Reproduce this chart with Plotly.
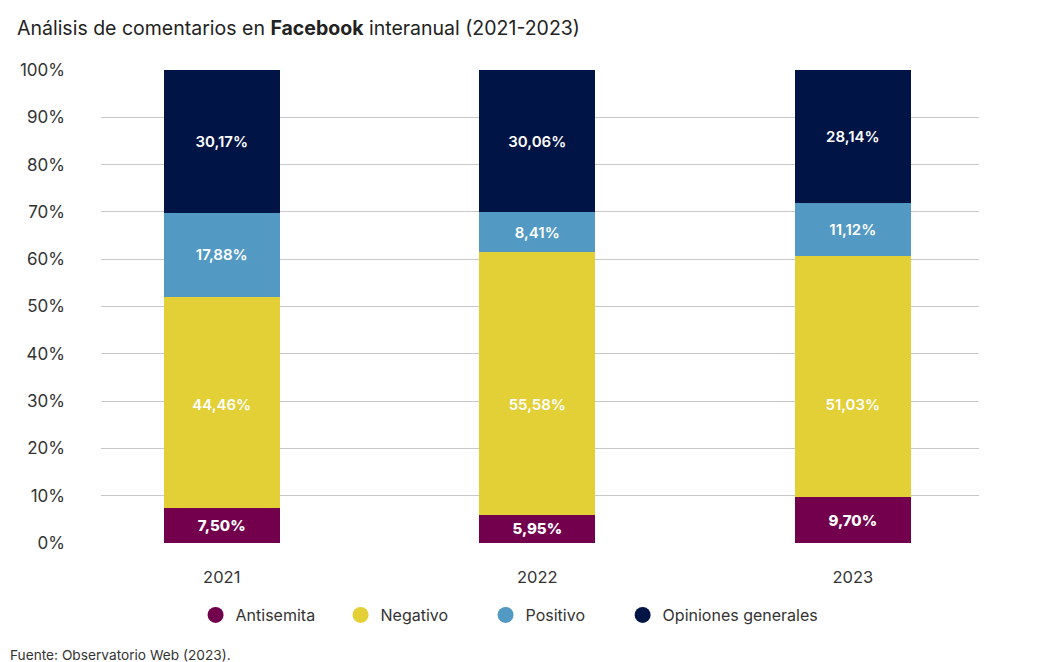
import plotly.graph_objects as go

years = ["2021", "2022", "2023"]
antisemita = [7.50, 5.95, 9.70]
negativo = [44.46, 55.58, 51.03]
positivo = [17.88, 8.41, 11.12]
opiniones = [30.17, 30.06, 28.14]

series = [
    ("Antisemita", antisemita, "#72004c", 800, "legend"),
    ("Negativo", negativo, "#e3cf36", 600, "legend"),
    ("Positivo", positivo, "#5299c4", 600, "legend"),
    ("Opiniones generales", opiniones, "#001446", 600, "legend2"),
]

FONT = "Inter"
NEG_LABEL_LEVEL = 29  # style: the Negativo labels sit at a common height
xpos = list(range(len(years)))

W, H = 1030, 654
L, T, R, B = 89, 62, 59, 119
PH = H - T - B
PW = W - L - R

fig = go.Figure()
for name, vals, color, w, lg in series:
    is_neg = name == "Negativo"
    fig.add_trace(go.Bar(
        x=xpos, y=vals, name=name, marker=dict(color=color, line=dict(width=0)),
        width=0.368, texttemplate="%{y:.2f}%",
        textposition="none" if is_neg else "inside",
        insidetextanchor="middle", constraintext="none",
        textfont=dict(family=FONT, size=15, color="white", weight=w),
        showlegend=False, hoverinfo="skip",
    ))
    fig.add_trace(go.Scatter(
        x=[None], y=[None], mode="markers", name=name, legend=lg,
        marker=dict(symbol="circle", size=16, color=color),
        showlegend=True,
    ))

fig.add_trace(go.Scatter(
    x=xpos, y=[NEG_LABEL_LEVEL] * len(xpos), mode="text",
    text=[f"{v:.2f}%".replace(".", ",") for v in negativo],
    textposition="middle center",
    textfont=dict(family=FONT, size=15, color="white", weight=600),
    showlegend=False, hoverinfo="skip",
))

legend_common = dict(
    orientation="h", yanchor="middle", y=-(607 - (T + PH)) / PH,
    xanchor="left", font=dict(family=FONT, size=16, color="#333333"),
    itemsizing="trace", traceorder="normal", bgcolor="rgba(0,0,0,0)",
)

fig.update_layout(
    barmode="stack",
    separators=",.",
    width=W, height=H,
    margin=dict(l=L, r=R, t=T, b=B),
    paper_bgcolor="white", plot_bgcolor="white",
    font=dict(family=FONT, color="#333333"),
    title=dict(
        text="Análisis de comentarios en <b>Facebook</b> interanual (2021-2023)",
        x=9 / W, xanchor="left", y=1 - 20 / H, yanchor="middle",
        font=dict(family=FONT, size=19.5, color="#222222"),
    ),
    xaxis=dict(
        tickmode="array", tickvals=xpos, ticktext=years,
        range=[-0.3826, 2.4], showgrid=False, zeroline=False, showline=False,
        ticks="", tickfont=dict(family=FONT, size=16.5, color="#333333"),
        ticklabelstandoff=22,
    ),
    yaxis=dict(
        range=[0, 100], tickvals=list(range(0, 101, 10)),
        ticktext=[f"{v}%" for v in range(0, 101, 10)],
        showgrid=True, gridcolor="#c8c8c8", gridwidth=1, zeroline=False,
        showline=False, ticks="", ticklabelposition="outside",
        tickfont=dict(family=FONT, size=17, color="#333333"),
        ticklabelstandoff=35,
    ),
    legend=dict(**legend_common, x=(184 - L) / PW,
                entrywidth=100, entrywidthmode="pixels"),
    legend2=dict(**legend_common, x=(613 - L) / PW),
)

fig.add_annotation(
    text="Fuente: Observatorio Web (2023).", xref="paper", yref="paper",
    x=(-4 - L) / PW, xanchor="left", y=-(647 - (T + PH)) / PH, yanchor="middle",
    showarrow=False, font=dict(family=FONT, size=13.7, color="#333333"),
)

fig.write_html("out.html")
